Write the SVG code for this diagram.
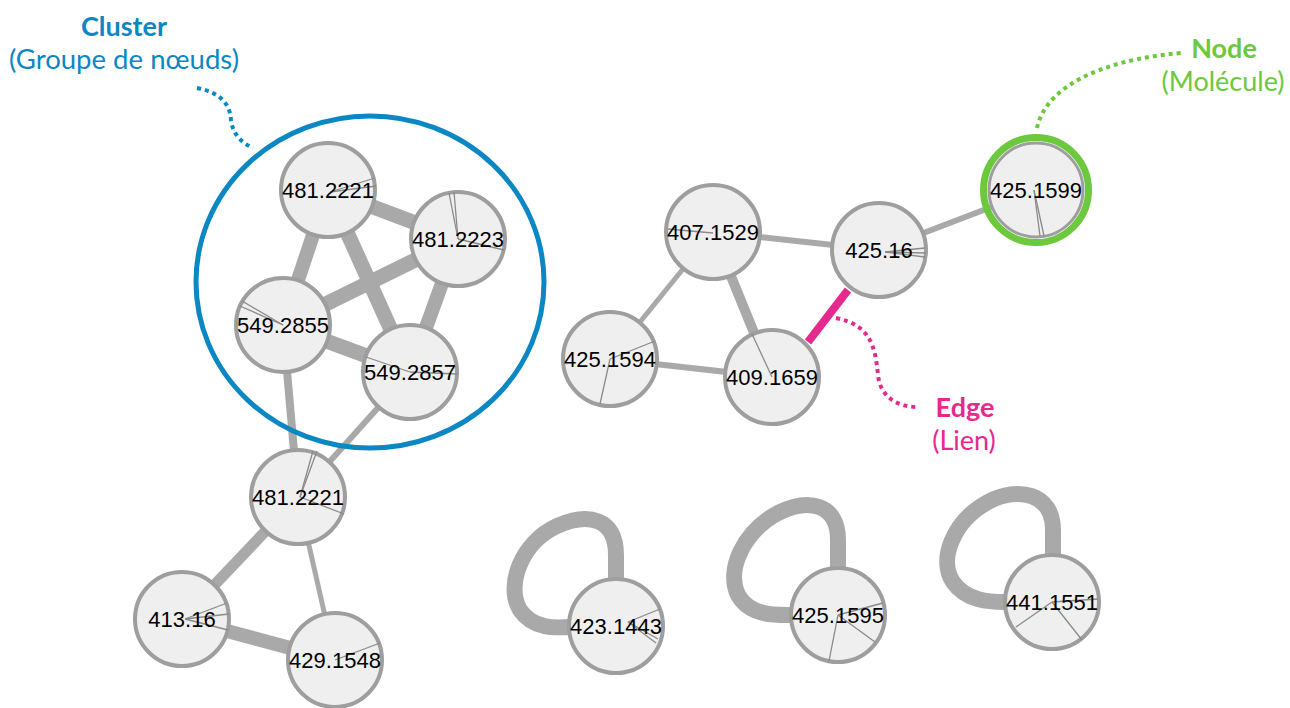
<svg xmlns="http://www.w3.org/2000/svg" width="1290" height="708" viewBox="0 0 1290 708">
<style>
.e{stroke:#a9a9a9;fill:none;stroke-linecap:butt}
.n circle{fill:#efefef;stroke:#9e9e9e;stroke-width:4}
.n line{stroke:#8a8a8a;stroke-width:1.3}
.n text{font-family:"Liberation Sans",Arial,sans-serif;font-size:22px;fill:#000;text-anchor:middle}
.lbl{font-family:Lato,"Open Sans",sans-serif;text-anchor:middle;font-size:27px}
.b{font-weight:bold}
.dot{fill:none;stroke-width:4;stroke-dasharray:4 4}
</style>
<rect width="1290" height="708" fill="#fff"/>
<g id="connectors">
<line class="e" x1="328" y1="190" x2="458" y2="239" stroke-width="15"/>
<line class="e" x1="328" y1="190" x2="283" y2="325" stroke-width="14"/>
<line class="e" x1="328" y1="190" x2="410" y2="372" stroke-width="15"/>
<line class="e" x1="458" y1="239" x2="283" y2="325" stroke-width="15"/>
<line class="e" x1="458" y1="239" x2="410" y2="372" stroke-width="14"/>
<line class="e" x1="283" y1="325" x2="410" y2="372" stroke-width="15"/>
<line class="e" x1="283" y1="325" x2="298" y2="497" stroke-width="8"/>
<line class="e" x1="410" y1="372" x2="298" y2="497" stroke-width="6"/>
<line class="e" x1="298" y1="497" x2="182" y2="619" stroke-width="11"/>
<line class="e" x1="298" y1="497" x2="335" y2="660" stroke-width="5"/>
<line class="e" x1="182" y1="619" x2="335" y2="660" stroke-width="14"/>
<line class="e" x1="713" y1="232" x2="879" y2="250" stroke-width="6"/>
<line class="e" x1="713" y1="232" x2="610" y2="359" stroke-width="5"/>
<line class="e" x1="713" y1="232" x2="772" y2="377" stroke-width="10"/>
<line class="e" x1="610" y1="359" x2="772" y2="377" stroke-width="6"/>
<line class="e" x1="879" y1="250" x2="1036" y2="190" stroke-width="6"/>
<line x1="848" y1="290" x2="808" y2="342" stroke="#e5298d" stroke-width="8"/>
<path class="e" stroke-width="16" d="M616,580 L616,555 C616,518 588,512 557,526 C522,542 505,585 520,610 C533,629 555,628 570,627"/>
<path class="e" stroke-width="16" d="M838,567 L838,540 C838,503 808,498 778,513 C743,532 726,570 738,595 C750,616 775,615 790,615"/>
<path class="e" stroke-width="16" d="M1053,555 L1053,530 C1053,493 1018,486 988,502 C953,521 938,560 953,582 C966,601 990,602 1005,602"/>
</g>
<g id="n1" class="n"><circle cx="328" cy="190" r="47"/><line x1="330" y1="192" x2="375" y2="178"/><line x1="330" y1="192" x2="376" y2="186"/><text x="328" y="198">481.2221</text></g>
<g id="n2" class="n"><circle cx="458" cy="239" r="47"/><line x1="458" y1="239" x2="449" y2="193"/><line x1="458" y1="239" x2="454" y2="192"/><line x1="458" y1="239" x2="504" y2="250"/><text x="458" y="247">481.2223</text></g>
<g id="n3" class="n"><circle cx="283" cy="325" r="47"/><line x1="283" y1="325" x2="242" y2="301"/><line x1="283" y1="325" x2="240" y2="306"/><text x="283" y="333">549.2855</text></g>
<g id="n4" class="n"><circle cx="410" cy="372" r="47"/><line x1="410" y1="372" x2="366" y2="357"/><line x1="410" y1="372" x2="457" y2="374"/><text x="410" y="380">549.2857</text></g>
<g id="n5" class="n"><circle cx="298" cy="497" r="47"/><line x1="300" y1="497" x2="313" y2="451"/><line x1="300" y1="497" x2="317" y2="451"/><line x1="300" y1="497" x2="344" y2="514"/><text x="298" y="505">481.2221</text></g>
<g id="n6" class="n"><circle cx="182" cy="619" r="47"/><line x1="185" y1="619" x2="227" y2="603"/><line x1="185" y1="619" x2="229" y2="614"/><line x1="185" y1="619" x2="228" y2="630"/><text x="182" y="627">413.16</text></g>
<g id="n7" class="n"><circle cx="335" cy="660" r="47"/><line x1="335" y1="660" x2="380" y2="643"/><text x="335" y="668">429.1548</text></g>
<g id="n8" class="n"><circle cx="713" cy="232" r="47"/><line x1="668" y1="229" x2="713" y2="233"/><text x="713" y="240">407.1529</text></g>
<g id="n9" class="n"><circle cx="879" cy="250" r="47"/><line x1="885" y1="252" x2="925" y2="248"/><line x1="885" y1="252" x2="926" y2="253"/><line x1="885" y1="252" x2="925" y2="257"/><text x="879" y="258">425.16</text></g>
<g id="n10" class="n"><circle cx="1036" cy="190" r="52.5" style="fill:none;stroke:#6cc83c;stroke-width:7"/><circle cx="1036" cy="190" r="47" style="stroke-width:3"/><line x1="1034" y1="190" x2="1040" y2="236"/><line x1="1034" y1="190" x2="1044" y2="236"/><text x="1036" y="198">425.1599</text></g>
<g id="n11" class="n"><circle cx="610" cy="359" r="47"/><line x1="610" y1="359" x2="655" y2="341"/><line x1="610" y1="359" x2="600" y2="404"/><text x="610" y="367">425.1594</text></g>
<g id="n12" class="n"><circle cx="772" cy="377" r="47"/><line x1="772" y1="377" x2="752" y2="334"/><text x="772" y="385">409.1659</text></g>
<g id="n13" class="n"><circle cx="616" cy="626" r="47"/><line x1="628" y1="622" x2="660" y2="609"/><line x1="628" y1="622" x2="658" y2="639"/><line x1="628" y1="622" x2="656" y2="643"/><text x="616" y="634">423.1443</text></g>
<g id="n14" class="n"><circle cx="838" cy="615" r="47"/><line x1="838" y1="615" x2="829" y2="661"/><line x1="838" y1="615" x2="883" y2="603"/><line x1="838" y1="615" x2="875" y2="642"/><text x="838" y="623">425.1595</text></g>
<g id="n15" class="n"><circle cx="1052" cy="602" r="47"/><line x1="1052" y1="602" x2="1016" y2="627"/><line x1="1052" y1="602" x2="1082" y2="640"/><line x1="1052" y1="602" x2="1098" y2="599"/><text x="1052" y="610">441.1551</text></g>
<g id="cluster">
<ellipse cx="370" cy="282" rx="174" ry="166" fill="none" stroke="#0b87c4" stroke-width="5"/>
</g>
<g id="annotations">
<path class="dot" stroke="#0b87c4" d="M197,88 C222,93 230,105 231,120 C233,135 242,143 253,148"/>
<text class="lbl b" x="124" y="36" fill="#0b87c4">Cluster</text>
<text class="lbl" x="124" y="69" fill="#0b87c4" textLength="230" lengthAdjust="spacingAndGlyphs">(Groupe de nœuds)</text>
<path class="dot" stroke="#6cc83c" d="M1037,128 C1045,90 1095,60 1182,53"/>
<text class="lbl b" x="1224" y="58" fill="#6cc83c">Node</text>
<text class="lbl" x="1223" y="91" fill="#6cc83c">(Molécule)</text>
<path class="dot" stroke="#e5298d" d="M836,318 C870,325 875,345 878,375 C880,395 895,407 918,407"/>
<text class="lbl b" x="965" y="417" fill="#e5298d">Edge</text>
<text class="lbl" x="964" y="450" fill="#e5298d">(Lien)</text>
</g>
</svg>
